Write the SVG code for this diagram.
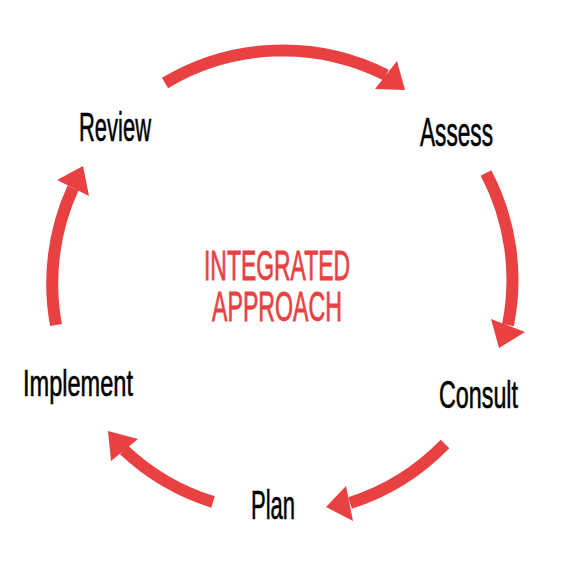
<svg xmlns="http://www.w3.org/2000/svg" width="567" height="567" viewBox="0 0 567 567">
  <style>
    .arc { fill: none; stroke: #E94141; stroke-width: 12; stroke-linecap: butt; }
    .head { fill: #E94141; }
    .lbl { font-family: "Liberation Sans", Arial, sans-serif; fill: #000; stroke: #000; stroke-width: 0.6; }
    .center { font-family: "Liberation Sans", Arial, sans-serif; fill: #E94141; stroke: #E94141; stroke-width: 0.8; }
  </style>
  <rect width="567" height="567" fill="#fff"/>
  <g id="connectors">
    <path class="arc" d="M165,83 A229.5,229.5 0 0 1 386,75"/>
    <polygon class="head" points="405,90 397,61 375,89"/>
    <path class="arc" d="M486,173 A229.5,229.5 0 0 1 508,325"/>
    <polygon class="head" points="499,348 491,319 525,332"/>
    <path class="arc" d="M445,444 A229.5,229.5 0 0 1 350,503"/>
    <polygon class="head" points="326,507 346,486 353,521"/>
    <path class="arc" d="M213,502 A229.5,229.5 0 0 1 124,450"/>
    <polygon class="head" points="108,431 138,439 111,461"/>
    <path class="arc" d="M56,325 A229.5,229.5 0 0 1 73,188"/>
    <polygon class="head" points="83,166 57,180 89,196"/>
  </g>
  <g id="center-label">
    <text class="center" x="204" y="279.5" font-size="43" textLength="146" lengthAdjust="spacingAndGlyphs">INTEGRATED</text>
    <text class="center" x="212" y="320.5" font-size="43" textLength="130" lengthAdjust="spacingAndGlyphs">APPROACH</text>
  </g>
  <g id="node-review">
    <text class="lbl" x="79" y="141" font-size="40" textLength="72" lengthAdjust="spacingAndGlyphs">Review</text>
  </g>
  <g id="node-assess">
    <text class="lbl" x="420" y="146" font-size="40" textLength="73" lengthAdjust="spacingAndGlyphs">Assess</text>
  </g>
  <g id="node-consult">
    <text class="lbl" x="439" y="408" font-size="39" textLength="79" lengthAdjust="spacingAndGlyphs">Consult</text>
  </g>
  <g id="node-plan">
    <text class="lbl" x="251" y="519" font-size="40" textLength="44" lengthAdjust="spacingAndGlyphs">Plan</text>
  </g>
  <g id="node-implement">
    <text class="lbl" x="23" y="396" font-size="36" textLength="110" lengthAdjust="spacingAndGlyphs">Implement</text>
  </g>
</svg>
